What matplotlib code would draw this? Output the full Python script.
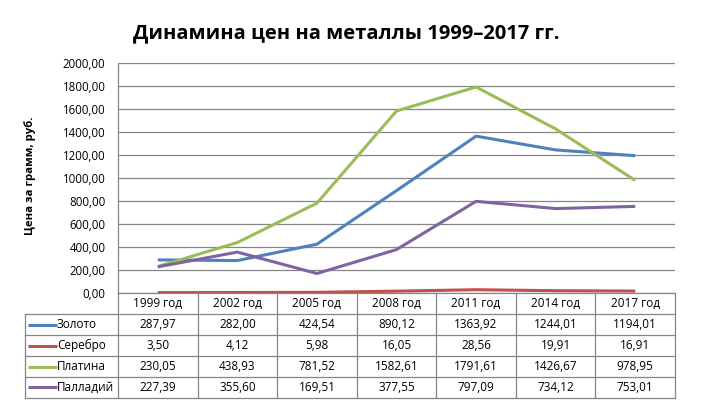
import matplotlib.pyplot as plt

plt.rcParams['font.family'] = ['Open Sans', 'DejaVu Sans']

years = ["1999 год", "2002 год", "2005 год", "2008 год", "2011 год", "2014 год", "2017 год"]
metals = ["Золото", "Серебро", "Платина", "Палладий"]
gold = [287.97, 282.00, 424.54, 890.12, 1363.92, 1244.01, 1194.01]
silver = [3.50, 4.12, 5.98, 16.05, 28.56, 19.91, 16.91]
platinum = [230.05, 438.93, 781.52, 1582.61, 1791.61, 1426.67, 978.95]
palladium = [227.39, 355.60, 169.51, 377.55, 797.09, 734.12, 753.01]
series = [gold, silver, platinum, palladium]
colors = ["#4F81BD", "#C0504D", "#9BBB59", "#8064A2"]

W, H = 701, 417
fig = plt.figure(figsize=(W / 100, H / 100), dpi=100)

# pixel layout of the plot area
x0, x1 = 118, 675
y_top, y_bot = 63, 293
ax = fig.add_axes([x0 / W, 1 - y_bot / H, (x1 - x0) / W, (y_bot - y_top) / H])

xs = list(range(len(years)))
for vals, c in zip(series, colors):
    ax.plot(xs, vals, color=c, lw=2.2, solid_capstyle='butt', zorder=3)

ax.set_xlim(-0.5, len(years) - 0.5)
ax.set_ylim(0, 2000)
ax.set_yticks(range(0, 2001, 200))
ax.set_yticklabels([f"{v},00" for v in range(0, 2001, 200)], fontsize=8.3)
ax.set_xticks([])
ax.tick_params(axis='y', length=0, pad=9)
ax.grid(axis='y', color='#868686', lw=0.9)
ax.set_axisbelow(True)
for s in ['top', 'right', 'bottom']:
    ax.spines[s].set_visible(False)
ax.spines['left'].set_color('#868686')
ax.spines['left'].set_linewidth(0.9)

# data table below the plot
tab = fig.add_axes([0, 0, 1, 1])
tab.set_xlim(0, W)
tab.set_ylim(H, 0)
tab.axis('off')
col_w = (x1 - x0) / len(years)
rows_y = [293, 314, 335, 356, 377, 397.5]
leg_x = 25
lc = '#868686'
lw = 0.9
tab.plot([x0, x1], [rows_y[0], rows_y[0]], color=lc, lw=lw)
for y in rows_y[1:]:
    tab.plot([leg_x, x1], [y, y], color=lc, lw=lw)
for i in range(len(years) + 1):
    xv = x0 + i * col_w
    tab.plot([xv, xv], [rows_y[0], rows_y[-1]], color=lc, lw=lw)
tab.plot([leg_x, leg_x], [rows_y[1], rows_y[-1]], color=lc, lw=lw)

fs = 8.5
for i, yr in enumerate(years):
    tab.text(x0 + (i + 0.5) * col_w, (rows_y[0] + rows_y[1]) / 2, yr,
             ha='center', va='center', fontsize=fs)
for r, (name, vals, c) in enumerate(zip(metals, series, colors)):
    yc = (rows_y[r + 1] + rows_y[r + 2]) / 2
    tab.plot([28, 57], [yc, yc], color=c, lw=2.2, solid_capstyle='butt')
    tab.text(57, yc, name, ha='left', va='center', fontsize=fs)
    for i, v in enumerate(vals):
        tab.text(x0 + (i + 0.5) * col_w, yc, f"{v:.2f}".replace('.', ','),
                 ha='center', va='center', fontsize=fs)

fig.text(346 / W, 1 - 33 / H, "Динамина цен на металлы 1999–2017 гг.",
         ha='center', va='center', fontsize=14.5, fontweight='bold')
fig.text(30 / W, 1 - 176 / H, "Цена за грамм, руб.", rotation=90,
         ha='center', va='center', fontsize=8.2, fontweight='bold')

fig.savefig("out.png", dpi=100)
